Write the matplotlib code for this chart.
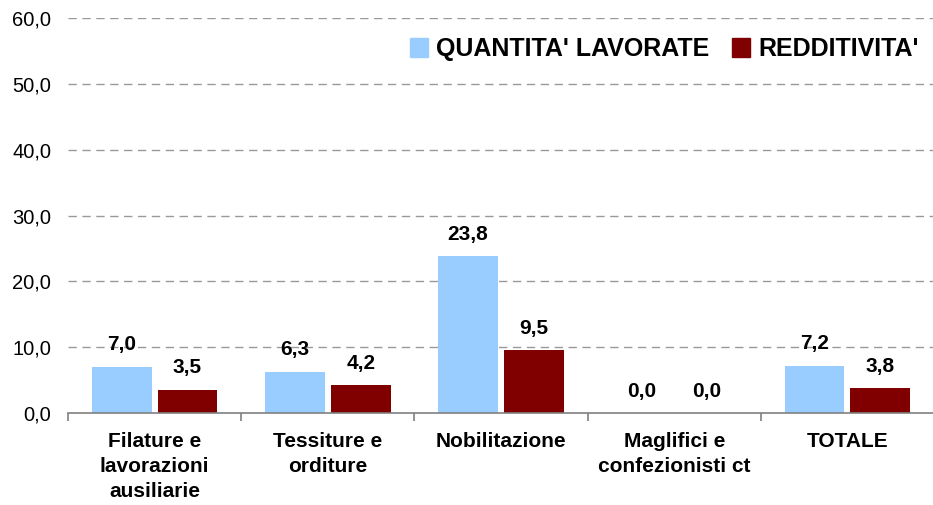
import numpy as np
import matplotlib
matplotlib.use("Agg")
import matplotlib.pyplot as plt
from matplotlib.patches import Patch

plt.rcParams['font.family'] = ['Liberation Sans', 'DejaVu Sans']

categories = ["Filature e\nlavorazioni\nausiliarie", "Tessiture e\norditure",
              "Nobilitazione", "Maglifici e\nconfezionisti ct", "TOTALE"]
quantita = [7.0, 6.3, 23.8, 0.0, 7.2]
redditivita = [3.5, 4.2, 9.5, 0.0, 3.8]
series_names = ["QUANTITA' LAVORATE", "REDDITIVITA'"]
colors = ["#99CCFF", "#800000"]

fig = plt.figure(figsize=(9.33, 5.05), dpi=100)
ax = fig.add_axes([68 / 933, 92 / 505, 866 / 933, 395 / 505])

x = np.arange(len(categories))
w = 0.345
off = 0.19
b1 = ax.bar(x - off, quantita, w, color=colors[0])
b2 = ax.bar(x + off, redditivita, w, color=colors[1])

def fmt(v):
    return f"{v:.1f}".replace(".", ",")

for bars, vals in ((b1, quantita), (b2, redditivita)):
    for r, v in zip(bars, vals):
        ax.text(r.get_x() + r.get_width() / 2, v + 2.5, fmt(v), ha='center',
                va='baseline', fontsize=15, fontweight='bold')

ax.set_xlim(-0.5, len(categories) - 0.5)
ax.set_ylim(0, 60)
yt = np.arange(0, 61, 10)
ax.set_yticks(yt)
ax.set_yticklabels([fmt(v) for v in yt], fontsize=14.5)
ax.tick_params(axis='y', length=0, pad=12)

ax.set_xticks(x)
ax.set_xticklabels(categories, fontsize=15, fontweight='bold', linespacing=1.38)
ax.tick_params(axis='x', length=0, pad=14)
ax.set_xticks(np.arange(-0.5, len(categories)), minor=True)
ax.tick_params(axis='x', which='minor', length=6, width=1.2, color='#808080', direction='out')

for v in yt[1:]:
    ax.axhline(v, color='#999999', lw=1, ls=(0, (6, 4)), zorder=0)

for s in ['top', 'right', 'left']:
    ax.spines[s].set_visible(False)
ax.spines['bottom'].set_color('#808080')
ax.spines['bottom'].set_linewidth(1.2)

handles = [Patch(color=c) for c in colors]
ax.legend(handles, series_names, loc='upper right', bbox_to_anchor=(1.008, 1.008),
          ncol=2, frameon=False, prop={'weight': 'bold', 'size': 18},
          handlelength=0.75, handleheight=0.75, handletextpad=0.3, columnspacing=0.9)

fig.savefig("out.png", dpi=100)
